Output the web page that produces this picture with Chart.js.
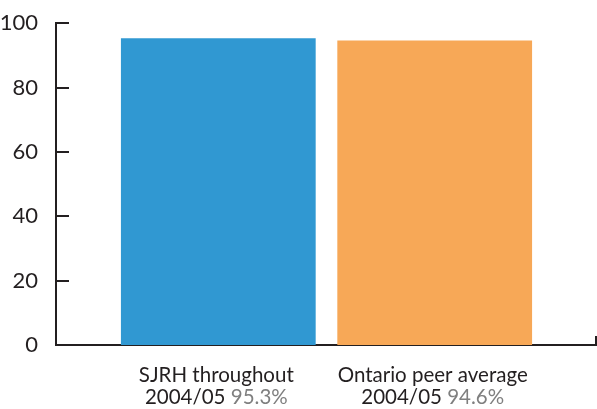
<!DOCTYPE html>
<html>
<head>
<meta charset="utf-8">
<script src="https://cdn.jsdelivr.net/npm/chart.js@4/dist/chart.umd.min.js"></script>
<style>
  html, body { margin: 0; padding: 0; background: #fff; }
  #wrap { width: 597px; height: 409px; }
</style>
</head>
<body>
<div id="wrap"><canvas id="chart"></canvas></div>
<script>
const categories = ['SJRH throughout', 'Ontario peer average'];
const periods = ['2004/05', '2004/05'];
const values = [95.3, 94.6];
const valueLabels = ['95.3%', '94.6%'];
const positions = [1, 2];
const barColors = ['#3098d2', '#f7a857'];
const yTicks = [0, 20, 40, 60, 80, 100];

const AXIS = '#231f20';
const FONT = 'Lato, "DejaVu Sans", sans-serif';

// inward y ticks, right-end tick and two-line category labels
const axisExtras = {
  id: 'axisExtras',
  afterDraw(chart) {
    const ctx = chart.ctx;
    const x = chart.scales.x;
    const y = chart.scales.y;
    const area = chart.chartArea;
    ctx.save();
    ctx.strokeStyle = AXIS;
    ctx.lineWidth = 2;
    yTicks.forEach((t) => {
      if (t === 0) return;
      const py = Math.round(y.getPixelForValue(t));
      ctx.beginPath();
      ctx.moveTo(area.left, py);
      ctx.lineTo(area.left + 13, py);
      ctx.stroke();
    });
    ctx.beginPath();
    ctx.moveTo(area.right - 1, area.bottom);
    ctx.lineTo(area.right - 1, area.bottom - 9);
    ctx.stroke();

    ctx.font = '20.5px ' + FONT;
    ctx.textBaseline = 'alphabetic';
    categories.forEach((name, i) => {
      const cx = x.getPixelForValue(positions[i]) - 2;
      ctx.fillStyle = AXIS;
      ctx.textAlign = 'center';
      ctx.fillText(name, cx, area.bottom + 37);
      const a = periods[i] + ' ';
      const b = valueLabels[i];
      const wa = ctx.measureText(a).width;
      const wb = ctx.measureText(b).width;
      const start = cx - (wa + wb) / 2;
      ctx.textAlign = 'left';
      ctx.fillText(a, start, area.bottom + 59);
      ctx.fillStyle = '#7f7f7f';
      ctx.fillText(b, start + wa, area.bottom + 59);
    });
    ctx.restore();
  }
};

new Chart(document.getElementById('chart'), {
  type: 'bar',
  data: {
    datasets: [{
      data: values.map((v, i) => ({ x: positions[i], y: v })),
      backgroundColor: barColors,
      borderWidth: 0,
      barPercentage: 0.9,
      categoryPercentage: 1
    }]
  },
  options: {
    responsive: true,
    maintainAspectRatio: false,
    animation: false,
    layout: { padding: { top: 21, right: 0, left: 0, bottom: 0 } },
    plugins: { legend: { display: false }, tooltip: { enabled: false } },
    scales: {
      x: {
        type: 'linear',
        offset: false,
        min: 0.25,
        max: 2.75,
        afterBuildTicks: (s) => { s.ticks = positions.map((v) => ({ value: v })); },
        ticks: { display: false },
        grid: { display: false },
        border: { display: true, color: AXIS, width: 2 },
        afterFit: (s) => { s.height = 64; }
      },
      y: {
        min: 0,
        max: 100,
        ticks: {
          stepSize: 20,
          color: AXIS,
          padding: 10,
          font: { family: FONT, size: 22 }
        },
        grid: { display: false },
        border: { display: true, color: AXIS, width: 2 },
        afterFit: (s) => { s.width = 56; }
      }
    }
  },
  plugins: [axisExtras]
});
</script>
</body>
</html>
